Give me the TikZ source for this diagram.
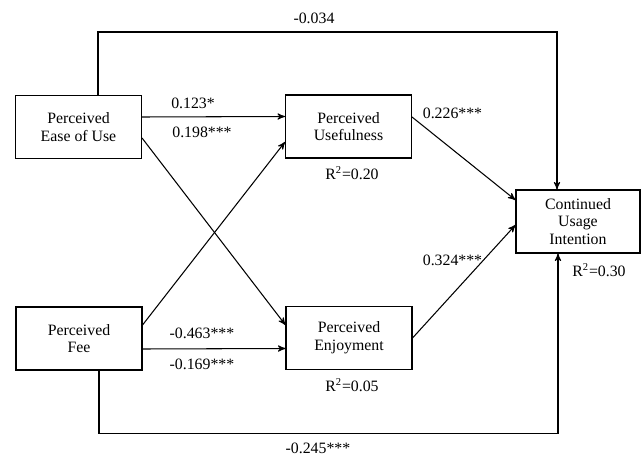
\documentclass[tikz,border=0pt]{standalone}
\usepackage{fontspec}
\setmainfont{Liberation Serif}
\usepackage{tikz}
\usetikzlibrary{arrows}
\usetikzlibrary{positioning}
\tikzstyle{var}=[rectangle,draw=black,fill=white,semithick,minimum width=2.52cm,minimum height=1.26cm,inner sep=0pt,align=center,font=\fontsize{9}{10}\selectfont]
\tikzstyle{arr}=[->,>=stealth',draw=black,semithick]
\tikzstyle{lbl}=[inner sep=0pt,font=\fontsize{9}{10}\selectfont]

\begin{document}
\begin{tikzpicture}
  \useasboundingbox (0,0) rectangle (12.86,9.14);
  \node[var] (PEOU) at (1.57,6.6) {Perceived\\Ease of Use};
  \node[var] (PU) at (6.97,6.61) {Perceived\\Usefulness};
  \node[var] (PF) at (1.58,2.37) {Perceived\\Fee};
  \node[var] (PE) at (6.98,2.38) {Perceived\\Enjoyment};
  \node[var,minimum width=2.48cm] (CUI) at (11.56,4.71) {Continued\\Usage\\Intention};
  \draw[arr] ([yshift=0.2cm]PEOU.east) -- ([yshift=0.2cm]PU.west);
  \draw[arr] ([yshift=-0.22cm]PEOU.east) -- ([yshift=0.26cm]PE.west);
  \draw[arr] ([yshift=0.27cm]PF.east) -- ([yshift=-0.31cm]PU.west);
  \draw[arr] ([yshift=-0.21cm]PF.east) -- ([yshift=-0.21cm]PE.west);
  \draw[arr] ([yshift=0.19cm]PU.east) -- ([yshift=0.43cm]CUI.west);
  \draw[arr] (PE.east) -- ([yshift=-0.07cm]CUI.west);
  \draw[arr] ([xshift=0.39cm]PEOU.north) -- ++(0,1.26) -| ([xshift=-0.42cm]CUI.north);
  \draw[arr] ([xshift=0.4cm]PF.south) -- ++(0,-1.26) -| ([xshift=-0.4cm]CUI.south);
  \node[lbl] (l1) at (6.28,8.78) {-0.034};
  \node[lbl] (l2) at (3.86,7.08) {0.123*};
  \node[lbl] (l3) at (4.04,6.5) {0.198***};
  \node[lbl] (l4) at (4.04,2.48) {-0.463***};
  \node[lbl] (l5) at (4.04,1.86) {-0.169***};
  \node[lbl] (l6) at (9.05,6.88) {0.226***};
  \node[lbl] (l7) at (9.05,3.94) {0.324***};
  \node[lbl] (l8) at (6.36,0.18) {-0.245***};
  \node[lbl] (r1) at (7.04,5.68) {R\textsuperscript{2}=0.20};
  \node[lbl] (r2) at (7.04,1.44) {R\textsuperscript{2}=0.05};
  \node[lbl] (r3) at (11.98,3.74) {R\textsuperscript{2}=0.30};
\end{tikzpicture}
\end{document}
